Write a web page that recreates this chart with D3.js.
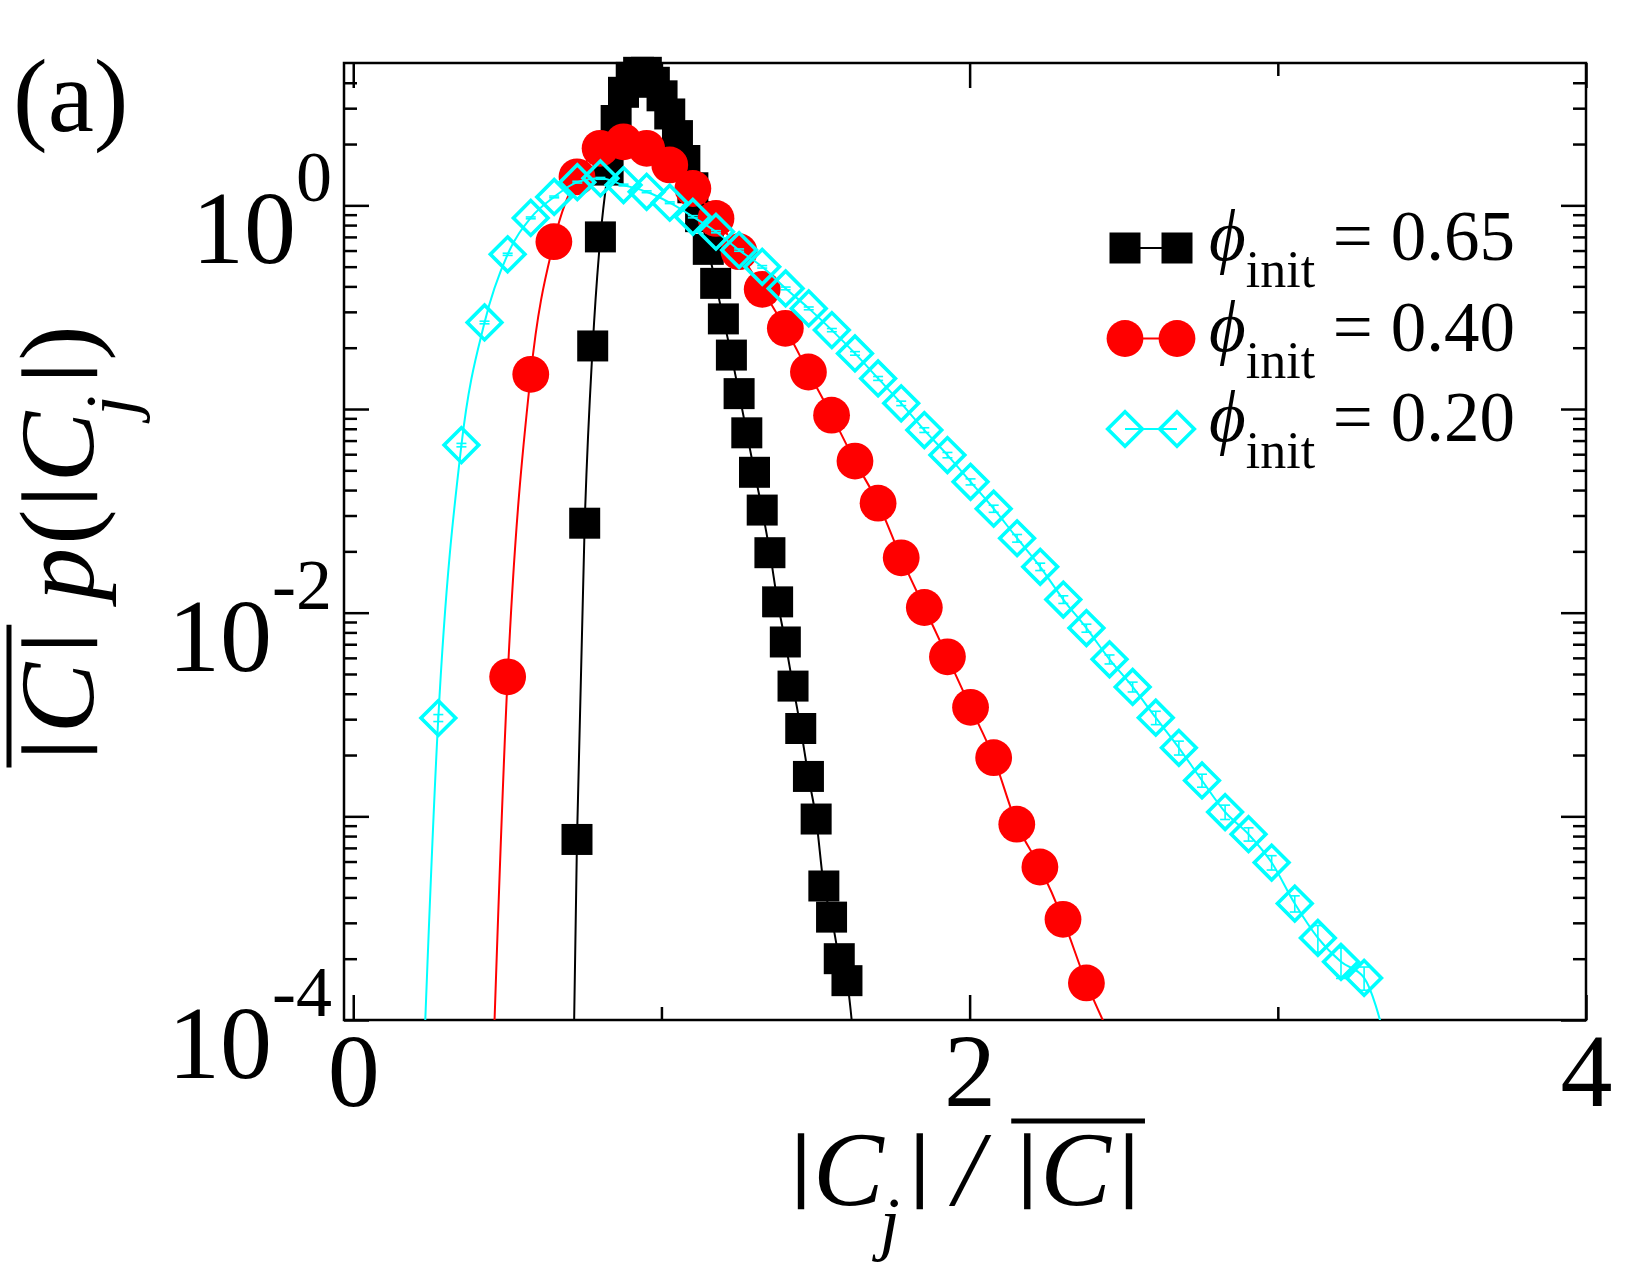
<!DOCTYPE html>
<html>
<head>
<meta charset="utf-8">
<script src="https://cdn.jsdelivr.net/npm/d3@7"></script>
<style>
  body { margin: 0; background: #fff; }
  svg { display: block; }
  text { font-family: "Liberation Serif", "Times New Roman", serif; fill: #000; }
</style>
</head>
<body>
<svg id="chart"></svg>
<script>
// ---- data ----
// phi_init = 0.65 (black squares)
const xBlack = [0.701, 0.726, 0.751, 0.777, 0.802, 0.827, 0.853, 0.877, 0.902, 0.926,
                0.951, 0.977, 1.002, 1.027, 1.052, 1.076, 1.102, 1.127, 1.152, 1.176,
                1.201, 1.227, 1.252, 1.277, 1.302, 1.327, 1.352, 1.377, 1.402, 1.427,
                1.452, 1.477, 1.502, 1.527, 1.552, 1.577, 1.602, 1.627];
const yBlack = [3e-6, 7.7e-4, 0.0275, 0.204, 0.70, 1.49, 2.61, 3.59, 4.25, 4.50,
                4.50, 4.02, 3.45, 2.81, 2.20, 1.66, 1.22, 0.88, 0.608, 0.414,
                0.277, 0.184, 0.119, 0.0764, 0.0489, 0.0319, 0.0197, 0.0113, 0.00718, 0.00436,
                0.0027, 0.00157, 9.7e-4, 4.55e-4, 3.2e-4, 2.0e-4, 1.56e-4, 7e-5];

// phi_init = 0.40 (red circles)
const xRed = [0.426, 0.501, 0.576, 0.651, 0.726, 0.801, 0.877, 0.952, 1.027, 1.102,
              1.177, 1.252, 1.327, 1.402, 1.477, 1.552, 1.628, 1.703, 1.778, 1.853,
              1.928, 2.003, 2.078, 2.153, 2.228, 2.303, 2.379, 2.454];
const yRed = [3e-6, 0.00484, 0.148, 0.663, 1.38, 1.905, 2.05, 1.905, 1.58, 1.21,
              0.863, 0.592, 0.387, 0.249, 0.152, 0.0933, 0.0555, 0.0345, 0.0186, 0.0106,
              0.00607, 0.00343, 0.00194, 9.15e-4, 5.64e-4, 3.12e-4, 1.52e-4, 8.5e-5];

// phi_init = 0.20 (cyan diamonds, with error bars)
const xCyan = [0.200, 0.276, 0.351, 0.426, 0.501, 0.576, 0.652, 0.727, 0.802, 0.877,
               0.952, 1.027, 1.102, 1.177, 1.252, 1.327, 1.403, 1.478, 1.553, 1.628,
               1.703, 1.778, 1.853, 1.928, 2.003, 2.078, 2.154, 2.229, 2.304, 2.379,
               2.454, 2.529, 2.604, 2.679, 2.754, 2.829, 2.905, 2.980, 3.055, 3.130,
               3.205, 3.280, 3.355];
const yCyan = [4e-6, 0.00304, 0.0665, 0.266, 0.575, 0.868, 1.10, 1.30, 1.357, 1.258,
               1.166, 1.03, 0.879, 0.742, 0.603, 0.499, 0.391, 0.312, 0.244, 0.1875,
               0.1413, 0.1066, 0.0788, 0.0594, 0.0439, 0.0324, 0.0232, 0.0168, 0.0116, 0.0084,
               0.0059, 0.00432, 0.00305, 0.00217, 0.0015, 0.00105, 8.17e-4, 5.93e-4, 3.73e-4, 2.53e-4,
               1.93e-4, 1.61e-4, 7.4e-5];
const errCyan = [0, 0.00012, 0.0013, 0.004, 0.007, 0.009, 0.011, 0.013, 0.014, 0.013,
                 0.012, 0.010, 0.011, 0.009, 0.008, 0.007, 0.006, 0.005, 0.0044, 0.0038,
                 0.0031, 0.0027, 0.0021, 0.0018, 0.0015, 0.0013, 0.0010, 0.0007, 0.0005, 0.00038,
                 0.00030, 0.00024, 0.00023, 0.00017, 0.00011, 8.5e-5, 6.1e-5, 4.8e-5, 3.4e-5, 3.8e-5,
                 3.3e-5, 2.1e-5, 0];

const seriesNames = ["0.65", "0.40", "0.20"];
const xTickMajor = [0, 2, 4];
const xTickMinor = [1, 3];
const yTickMajor = [1, 0.1, 0.01, 0.001, 0.0001];
const yLabelValues = [1, 0.01, 0.0001];
const yLabelExps = ["0", "-2", "-4"];

// ---- layout ----
const W = 1650, H = 1275;
const plot = { left: 344, right: 1586, top: 63, bottom: 1020 };

const x = d3.scaleLinear().domain([-0.03, 4]).range([plot.left, plot.right]);
const y = d3.scaleLog().domain([1e-4, 5]).range([plot.bottom, plot.top]);

const svg = d3.select("#chart").attr("width", W).attr("height", H);

svg.append("defs").append("clipPath").attr("id", "clip")
  .append("rect")
  .attr("x", plot.left).attr("y", plot.top)
  .attr("width", plot.right - plot.left).attr("height", plot.bottom - plot.top);

// ---- ticks (inward on all four sides) ----
function tickRow(axis, transform, values, size) {
  const g = svg.append("g")
    .attr("transform", transform)
    .call(axis.tickValues(values).tickSize(-size).tickFormat(""));
  g.select(".domain").remove();
  g.selectAll("line").attr("stroke", "#000").attr("stroke-width", 2.5);
  return g;
}

const yMinor = y.ticks().filter(v => Math.abs(Math.log10(v) - Math.round(Math.log10(v))) > 1e-6 && v < 5);

tickRow(d3.axisBottom(x), `translate(0,${plot.bottom})`, xTickMinor, 13);
tickRow(d3.axisTop(x), `translate(0,${plot.top})`, xTickMajor, 25);
tickRow(d3.axisTop(x), `translate(0,${plot.top})`, xTickMinor, 13);
tickRow(d3.axisLeft(y), `translate(${plot.left},0)`, yTickMajor, 25);
tickRow(d3.axisLeft(y), `translate(${plot.left},0)`, yMinor, 13);
tickRow(d3.axisRight(y), `translate(${plot.right},0)`, yTickMajor, 25);
tickRow(d3.axisRight(y), `translate(${plot.right},0)`, yMinor, 13);

// bottom major ticks carry the labels
const gx = svg.append("g")
  .attr("transform", `translate(0,${plot.bottom})`)
  .call(d3.axisBottom(x).tickValues(xTickMajor).tickSize(-25).tickPadding(12).tickFormat(d3.format("d")));
gx.select(".domain").remove();
gx.selectAll("line").attr("stroke", "#000").attr("stroke-width", 2.5);
gx.attr("font-size", 104).attr("font-family", "Liberation Serif, serif");
gx.selectAll("text").attr("fill", "#000");

// frame
svg.append("rect")
  .attr("x", plot.left).attr("y", plot.top)
  .attr("width", plot.right - plot.left).attr("height", plot.bottom - plot.top)
  .attr("fill", "none").attr("stroke", "#000").attr("stroke-width", 2.5);

// y tick labels 10^n
const yl = svg.append("g").selectAll("text")
  .data(yLabelValues.map((v, i) => ({ v, e: yLabelExps[i] })))
  .join("text")
  .attr("x", 332)
  .attr("y", d => y(d.v) + 58)
  .attr("text-anchor", "end")
  .attr("font-size", 104);
yl.append("tspan").text("10");
yl.append("tspan").attr("font-size", 72).attr("dy", -62).text(d => d.e);

// ---- series ----
const line = d3.line()
  .x(d => x(d[0]))
  .y(d => y(d[1]))
  .curve(d3.curveMonotoneX);

const inRange = d => d[1] >= 1e-4;

const black = d3.zip(xBlack, yBlack);
const red = d3.zip(xRed, yRed);
const cyan = d3.zip(xCyan, yCyan, errCyan);

const gData = svg.append("g");

gData.append("path").datum(black)
  .attr("clip-path", "url(#clip)")
  .attr("d", line).attr("fill", "none").attr("stroke", "#000").attr("stroke-width", 2);
gData.append("g").selectAll("path").data(black.filter(inRange)).join("path")
  .attr("transform", d => `translate(${x(d[0])},${y(d[1])})`)
  .attr("d", d3.symbol(d3.symbolSquare, 31 * 31))
  .attr("fill", "#000");

gData.append("path").datum(red)
  .attr("clip-path", "url(#clip)")
  .attr("d", line).attr("fill", "none").attr("stroke", "#ff0000").attr("stroke-width", 2);
gData.append("g").selectAll("circle").data(red.filter(inRange)).join("circle")
  .attr("cx", d => x(d[0])).attr("cy", d => y(d[1])).attr("r", 18.4)
  .attr("fill", "#ff0000");

gData.append("path").datum(cyan)
  .attr("clip-path", "url(#clip)")
  .attr("d", line).attr("fill", "none").attr("stroke", "#00ffff").attr("stroke-width", 2);

const eb = gData.append("g").attr("stroke", "#00ffff").attr("stroke-width", 1.6)
  .selectAll("g").data(cyan.filter(inRange)).join("g")
  .attr("transform", d => `translate(${x(d[0])},0)`);
eb.append("line").attr("y1", d => y(d[1] - d[2])).attr("y2", d => y(d[1] + d[2]));
eb.append("line").attr("x1", -5).attr("x2", 5).attr("y1", d => y(d[1] - d[2])).attr("y2", d => y(d[1] - d[2]));
eb.append("line").attr("x1", -5).attr("x2", 5).attr("y1", d => y(d[1] + d[2])).attr("y2", d => y(d[1] + d[2]));

gData.append("g").selectAll("path").data(cyan.filter(inRange)).join("path")
  .attr("transform", d => `translate(${x(d[0])},${y(d[1])}) rotate(45)`)
  .attr("d", d3.symbol(d3.symbolSquare, 600))
  .attr("fill", "none").attr("stroke", "#00ffff").attr("stroke-width", 3.6);

// ---- legend ----
const legendRows = [
  { name: seriesNames[0], color: "#000", kind: "square" },
  { name: seriesNames[1], color: "#ff0000", kind: "circle" },
  { name: seriesNames[2], color: "#00ffff", kind: "diamond" }
];
const lg = svg.append("g").selectAll("g").data(legendRows).join("g")
  .attr("transform", (d, i) => `translate(0,${248 + i * 90.5})`);
lg.append("line").attr("x1", 1125).attr("x2", 1177)
  .attr("stroke", d => d.color).attr("stroke-width", 2);
lg.each(function (d) {
  const g = d3.select(this);
  [1125, 1177].forEach(cx => {
    if (d.kind === "square") {
      g.append("path").attr("transform", `translate(${cx},0)`)
        .attr("d", d3.symbol(d3.symbolSquare, 31 * 31)).attr("fill", d.color);
    } else if (d.kind === "circle") {
      g.append("circle").attr("cx", cx).attr("r", 18.4).attr("fill", d.color);
    } else {
      g.append("path").attr("transform", `translate(${cx},0) rotate(45)`)
        .attr("d", d3.symbol(d3.symbolSquare, 600))
        .attr("fill", "none").attr("stroke", d.color).attr("stroke-width", 3.6);
    }
  });
});
const lt = lg.append("text").attr("x", 1209).attr("y", 12).attr("font-size", 71);
lt.append("tspan").attr("font-style", "italic").text("\u03D5");
lt.append("tspan").attr("font-size", 52).attr("dy", 27).text("init");
lt.append("tspan").attr("dy", -27).text(d => "\u00A0= " + d.name);

// ---- axis titles ----
// "|" is drawn smaller, stroked and lifted so it runs from baseline to cap height
function bar(t, dx, dy) {
  t.append("tspan").attr("font-size", 80).attr("dy", dy == null ? -14 : dy).attr("dx", dx || 0)
    .attr("stroke", "#000").attr("stroke-width", 2.4).text("|");
}

// x title: |C_j| / overline(|C|)
const xt = svg.append("text")
  .attr("x", (plot.left + plot.right) / 2).attr("y", 1205)
  .attr("text-anchor", "middle").attr("font-size", 106);
bar(xt);
xt.append("tspan").attr("font-style", "italic").attr("dy", 14).attr("dx", 4).text("C");
xt.append("tspan").attr("font-style", "italic").attr("font-size", 72).attr("dy", 42).attr("dx", -4).text("j");
bar(xt, 12, -56);
xt.append("tspan").attr("font-style", "italic").attr("dy", 14).attr("dx", 26).text("/");
bar(xt, 36);
xt.append("tspan").attr("font-style", "italic").attr("dy", 14).attr("dx", 5).text("C");
bar(xt, 10);
{
  const n = xt.node();
  const a = n.getExtentOfChar(5), b = n.getExtentOfChar(7);
  svg.append("line")
    .attr("x1", a.x - 8).attr("x2", b.x + b.width + 8)
    .attr("y1", 1121).attr("y2", 1121)
    .attr("stroke", "#000").attr("stroke-width", 5);
}

// y title: overline(|C|) p(|C_j|), rotated
const yg = svg.append("g").attr("transform", `translate(93,${(plot.top + plot.bottom) / 2}) rotate(-90)`);
const yt = yg.append("text").attr("text-anchor", "middle").attr("font-size", 106);
bar(yt);
yt.append("tspan").attr("font-style", "italic").attr("dy", 14).attr("dx", 8).text("C");
bar(yt, 12);
yt.append("tspan").attr("font-style", "italic").attr("dy", 14).attr("dx", 34).text("p");
yt.append("tspan").attr("dx", 3).text("(");
bar(yt, 5);
yt.append("tspan").attr("font-style", "italic").attr("dy", 14).attr("dx", 6).text("C");
yt.append("tspan").attr("font-style", "italic").attr("font-size", 72).attr("dy", 42).attr("dx", -4).text("j");
bar(yt, 15, -56);
yt.append("tspan").attr("dy", 14).attr("dx", 4).text(")");
{
  const n = yt.node();
  const a = n.getExtentOfChar(0), b = n.getExtentOfChar(2);
  yg.append("line")
    .attr("x1", a.x - 10).attr("x2", b.x + b.width + 10)
    .attr("y1", -84).attr("y2", -84)
    .attr("stroke", "#000").attr("stroke-width", 5);
}

// panel tag
svg.append("text").attr("x", 13).attr("y", 131).attr("font-size", 104).text("(a)");
</script>
</body>
</html>
